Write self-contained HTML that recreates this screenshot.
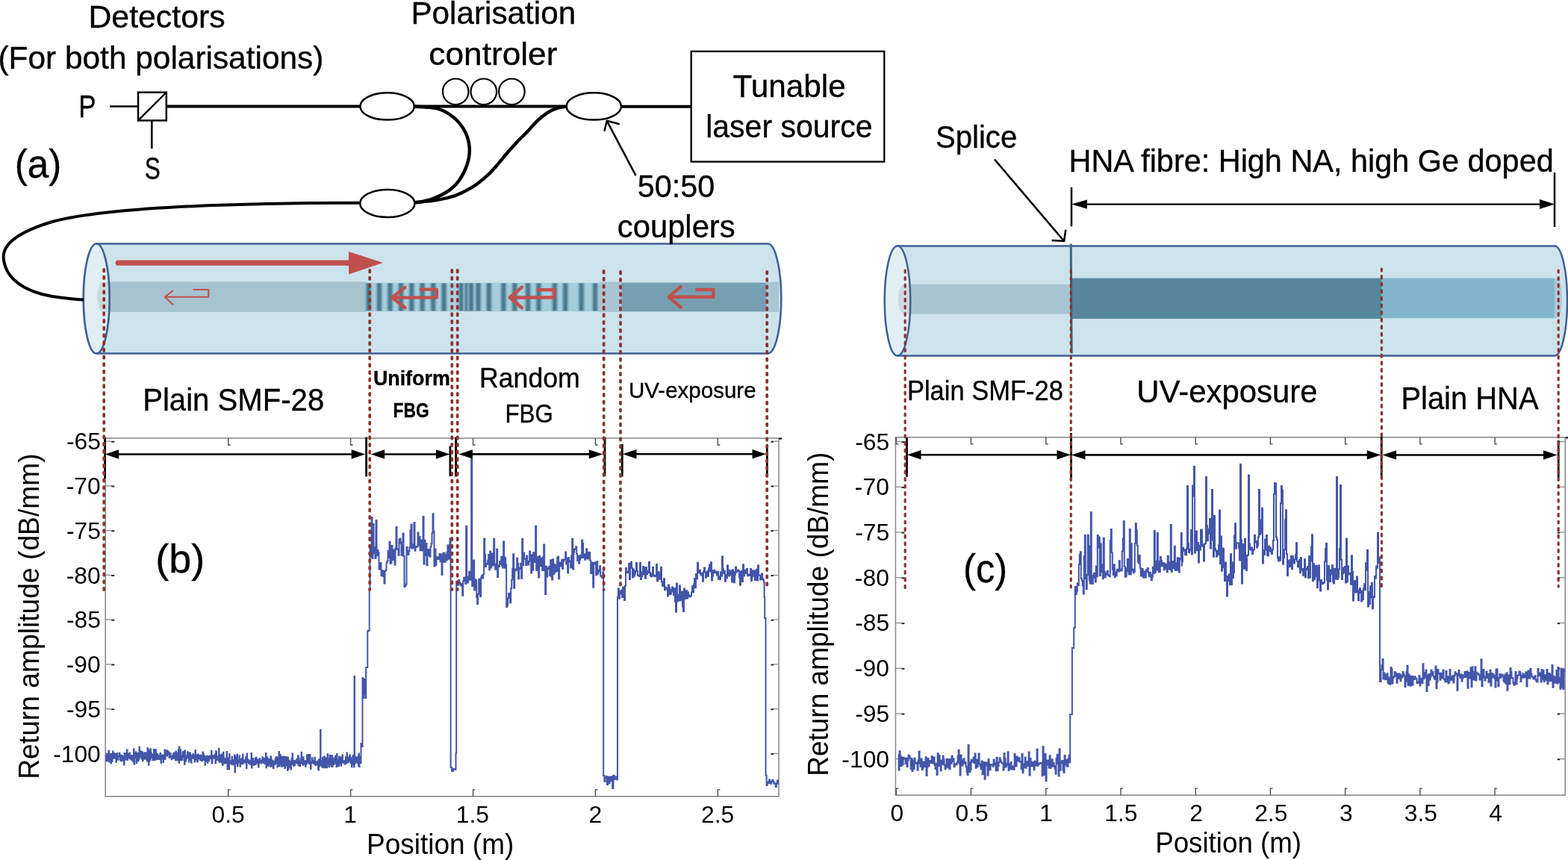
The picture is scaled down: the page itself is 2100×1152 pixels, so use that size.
<!DOCTYPE html>
<html><head><meta charset="utf-8"><title>OFDR fibre figure</title>
<style>html,body{margin:0;padding:0;background:#fff;} svg{display:block;}</style></head>
<body>
<svg width="2100" height="1152" viewBox="0 0 2100 1152" font-family='"Liberation Sans", sans-serif'>
<defs><linearGradient id="sg" x1="0" x2="1" y1="0" y2="0">
<stop offset="0" stop-color="#a6cddb" stop-opacity="0"/><stop offset="0.25" stop-color="#79a4b7"/><stop offset="0.4" stop-color="#4b7a90"/><stop offset="0.6" stop-color="#4b7a90"/><stop offset="0.75" stop-color="#79a4b7"/><stop offset="1" stop-color="#a6cddb" stop-opacity="0"/>
</linearGradient></defs>
<rect width="2100" height="1152" fill="#fff"/>
<rect x="141.2" y="587.0" width="901.8" height="479.79999999999995" fill="none" stroke="#8c8c8c" stroke-width="1.6"/>
<path d="M305.7,1066.8 V1057.8 h3 M305.7,587.0 V596.0 h3" fill="none" stroke="#444" stroke-width="1.3"/>
<path d="M469.6,1066.8 V1057.8 h3 M469.6,587.0 V596.0 h3" fill="none" stroke="#444" stroke-width="1.3"/>
<path d="M633.5,1066.8 V1057.8 h3 M633.5,587.0 V596.0 h3" fill="none" stroke="#444" stroke-width="1.3"/>
<path d="M797.4,1066.8 V1057.8 h3 M797.4,587.0 V596.0 h3" fill="none" stroke="#444" stroke-width="1.3"/>
<path d="M961.3,1066.8 V1057.8 h3 M961.3,587.0 V596.0 h3" fill="none" stroke="#444" stroke-width="1.3"/>
<path d="M141.2,591.1 H149.2" stroke="#8c8c8c" stroke-width="1.3"/>
<path d="M149.2,591.7 H153.2" stroke="#222" stroke-width="2"/>
<path d="M1043.0,591.1 H1036.0" stroke="#8c8c8c" stroke-width="1.3"/>
<path d="M1036.0,591.7 H1032.5" stroke="#222" stroke-width="2"/>
<path d="M141.2,650.9 H149.2" stroke="#8c8c8c" stroke-width="1.3"/>
<path d="M149.2,651.5 H153.2" stroke="#222" stroke-width="2"/>
<path d="M1043.0,650.9 H1036.0" stroke="#8c8c8c" stroke-width="1.3"/>
<path d="M1036.0,651.5 H1032.5" stroke="#222" stroke-width="2"/>
<path d="M141.2,710.6 H149.2" stroke="#8c8c8c" stroke-width="1.3"/>
<path d="M149.2,711.2 H153.2" stroke="#222" stroke-width="2"/>
<path d="M1043.0,710.6 H1036.0" stroke="#8c8c8c" stroke-width="1.3"/>
<path d="M1036.0,711.2 H1032.5" stroke="#222" stroke-width="2"/>
<path d="M141.2,770.4 H149.2" stroke="#8c8c8c" stroke-width="1.3"/>
<path d="M149.2,771.0 H153.2" stroke="#222" stroke-width="2"/>
<path d="M1043.0,770.4 H1036.0" stroke="#8c8c8c" stroke-width="1.3"/>
<path d="M1036.0,771.0 H1032.5" stroke="#222" stroke-width="2"/>
<path d="M141.2,830.1 H149.2" stroke="#8c8c8c" stroke-width="1.3"/>
<path d="M149.2,830.7 H153.2" stroke="#222" stroke-width="2"/>
<path d="M1043.0,830.1 H1036.0" stroke="#8c8c8c" stroke-width="1.3"/>
<path d="M1036.0,830.7 H1032.5" stroke="#222" stroke-width="2"/>
<path d="M141.2,889.9 H149.2" stroke="#8c8c8c" stroke-width="1.3"/>
<path d="M149.2,890.5 H153.2" stroke="#222" stroke-width="2"/>
<path d="M1043.0,889.9 H1036.0" stroke="#8c8c8c" stroke-width="1.3"/>
<path d="M1036.0,890.5 H1032.5" stroke="#222" stroke-width="2"/>
<path d="M141.2,949.6 H149.2" stroke="#8c8c8c" stroke-width="1.3"/>
<path d="M149.2,950.2 H153.2" stroke="#222" stroke-width="2"/>
<path d="M1043.0,949.6 H1036.0" stroke="#8c8c8c" stroke-width="1.3"/>
<path d="M1036.0,950.2 H1032.5" stroke="#222" stroke-width="2"/>
<path d="M141.2,1009.4 H149.2" stroke="#8c8c8c" stroke-width="1.3"/>
<path d="M149.2,1010.0 H153.2" stroke="#222" stroke-width="2"/>
<path d="M1043.0,1009.4 H1036.0" stroke="#8c8c8c" stroke-width="1.3"/>
<path d="M1036.0,1010.0 H1032.5" stroke="#222" stroke-width="2"/>
<path d="M1043.0,587.0 h4" stroke="#8c8c8c" stroke-width="1.6"/><path d="M1043.0,587.6 h4" stroke="#111" stroke-width="2"/>
<path d="M2096.2,585.8 H2100" stroke="#8c8c8c" stroke-width="1.6"/><path d="M2096.2,586.4 H2100" stroke="#111" stroke-width="2"/>
<rect x="1199.4" y="585.8" width="896.7999999999997" height="479.4000000000001" fill="none" stroke="#8c8c8c" stroke-width="1.6"/>
<path d="M1200.3,1065.2 V1056.2 h3 M1200.3,585.8 V594.8 h3" fill="none" stroke="#444" stroke-width="1.3"/>
<path d="M1300.5,1065.2 V1056.2 h3 M1300.5,585.8 V594.8 h3" fill="none" stroke="#444" stroke-width="1.3"/>
<path d="M1400.8,1065.2 V1056.2 h3 M1400.8,585.8 V594.8 h3" fill="none" stroke="#444" stroke-width="1.3"/>
<path d="M1501.0,1065.2 V1056.2 h3 M1501.0,585.8 V594.8 h3" fill="none" stroke="#444" stroke-width="1.3"/>
<path d="M1601.2,1065.2 V1056.2 h3 M1601.2,585.8 V594.8 h3" fill="none" stroke="#444" stroke-width="1.3"/>
<path d="M1701.4,1065.2 V1056.2 h3 M1701.4,585.8 V594.8 h3" fill="none" stroke="#444" stroke-width="1.3"/>
<path d="M1801.6,1065.2 V1056.2 h3 M1801.6,585.8 V594.8 h3" fill="none" stroke="#444" stroke-width="1.3"/>
<path d="M1901.9,1065.2 V1056.2 h3 M1901.9,585.8 V594.8 h3" fill="none" stroke="#444" stroke-width="1.3"/>
<path d="M2002.1,1065.2 V1056.2 h3 M2002.1,585.8 V594.8 h3" fill="none" stroke="#444" stroke-width="1.3"/>
<path d="M1199.4,591.6 H1207.4" stroke="#8c8c8c" stroke-width="1.3"/>
<path d="M1207.4,592.2 H1211.4" stroke="#222" stroke-width="2"/>
<path d="M2096.2,591.6 H2089.2" stroke="#8c8c8c" stroke-width="1.3"/>
<path d="M2089.2,592.2 H2085.7" stroke="#222" stroke-width="2"/>
<path d="M1199.4,652.3 H1207.4" stroke="#8c8c8c" stroke-width="1.3"/>
<path d="M1207.4,652.9 H1211.4" stroke="#222" stroke-width="2"/>
<path d="M2096.2,652.3 H2089.2" stroke="#8c8c8c" stroke-width="1.3"/>
<path d="M2089.2,652.9 H2085.7" stroke="#222" stroke-width="2"/>
<path d="M1199.4,713.0 H1207.4" stroke="#8c8c8c" stroke-width="1.3"/>
<path d="M1207.4,713.6 H1211.4" stroke="#222" stroke-width="2"/>
<path d="M2096.2,713.0 H2089.2" stroke="#8c8c8c" stroke-width="1.3"/>
<path d="M2089.2,713.6 H2085.7" stroke="#222" stroke-width="2"/>
<path d="M1199.4,773.7 H1207.4" stroke="#8c8c8c" stroke-width="1.3"/>
<path d="M1207.4,774.3 H1211.4" stroke="#222" stroke-width="2"/>
<path d="M2096.2,773.7 H2089.2" stroke="#8c8c8c" stroke-width="1.3"/>
<path d="M2089.2,774.3 H2085.7" stroke="#222" stroke-width="2"/>
<path d="M1199.4,834.5 H1207.4" stroke="#8c8c8c" stroke-width="1.3"/>
<path d="M1207.4,835.1 H1211.4" stroke="#222" stroke-width="2"/>
<path d="M2096.2,834.5 H2089.2" stroke="#8c8c8c" stroke-width="1.3"/>
<path d="M2089.2,835.1 H2085.7" stroke="#222" stroke-width="2"/>
<path d="M1199.4,895.2 H1207.4" stroke="#8c8c8c" stroke-width="1.3"/>
<path d="M1207.4,895.8 H1211.4" stroke="#222" stroke-width="2"/>
<path d="M2096.2,895.2 H2089.2" stroke="#8c8c8c" stroke-width="1.3"/>
<path d="M2089.2,895.8 H2085.7" stroke="#222" stroke-width="2"/>
<path d="M1199.4,955.9 H1207.4" stroke="#8c8c8c" stroke-width="1.3"/>
<path d="M1207.4,956.5 H1211.4" stroke="#222" stroke-width="2"/>
<path d="M2096.2,955.9 H2089.2" stroke="#8c8c8c" stroke-width="1.3"/>
<path d="M2089.2,956.5 H2085.7" stroke="#222" stroke-width="2"/>
<path d="M1199.4,1016.6 H1207.4" stroke="#8c8c8c" stroke-width="1.3"/>
<path d="M1207.4,1017.2 H1211.4" stroke="#222" stroke-width="2"/>
<path d="M2096.2,1016.6 H2089.2" stroke="#8c8c8c" stroke-width="1.3"/>
<path d="M2089.2,1017.2 H2085.7" stroke="#222" stroke-width="2"/>
<text x="88.98" y="602.30" font-size="31.80" textLength="45.96" lengthAdjust="spacingAndGlyphs">-65</text>
<text x="1145.18" y="602.60" font-size="31.80" textLength="45.96" lengthAdjust="spacingAndGlyphs">-65</text>
<text x="88.66" y="662.06" font-size="31.80" textLength="45.96" lengthAdjust="spacingAndGlyphs">-70</text>
<text x="1144.86" y="663.32" font-size="31.80" textLength="45.96" lengthAdjust="spacingAndGlyphs">-70</text>
<text x="88.98" y="721.81" font-size="31.80" textLength="45.96" lengthAdjust="spacingAndGlyphs">-75</text>
<text x="1145.18" y="724.03" font-size="31.80" textLength="45.96" lengthAdjust="spacingAndGlyphs">-75</text>
<text x="88.66" y="781.57" font-size="31.80" textLength="45.96" lengthAdjust="spacingAndGlyphs">-80</text>
<text x="1144.86" y="784.75" font-size="31.80" textLength="45.96" lengthAdjust="spacingAndGlyphs">-80</text>
<text x="88.98" y="841.32" font-size="31.80" textLength="45.96" lengthAdjust="spacingAndGlyphs">-85</text>
<text x="1145.18" y="845.46" font-size="31.80" textLength="45.96" lengthAdjust="spacingAndGlyphs">-85</text>
<text x="88.66" y="901.08" font-size="31.80" textLength="45.96" lengthAdjust="spacingAndGlyphs">-90</text>
<text x="1144.86" y="906.18" font-size="31.80" textLength="45.96" lengthAdjust="spacingAndGlyphs">-90</text>
<text x="88.98" y="960.83" font-size="31.80" textLength="45.96" lengthAdjust="spacingAndGlyphs">-95</text>
<text x="1145.18" y="966.89" font-size="31.80" textLength="45.96" lengthAdjust="spacingAndGlyphs">-95</text>
<text x="71.17" y="1020.59" font-size="31.80" textLength="63.65" lengthAdjust="spacingAndGlyphs">-100</text>
<text x="1127.37" y="1027.61" font-size="31.80" textLength="63.65" lengthAdjust="spacingAndGlyphs">-100</text>
<text x="283.60" y="1101.80" font-size="31.80" textLength="44.21" lengthAdjust="spacingAndGlyphs">0.5</text>
<text x="460.22" y="1101.80" font-size="31.80" textLength="17.69" lengthAdjust="spacingAndGlyphs">1</text>
<text x="610.76" y="1101.80" font-size="31.80" textLength="44.21" lengthAdjust="spacingAndGlyphs">1.5</text>
<text x="788.50" y="1101.80" font-size="31.80" textLength="17.69" lengthAdjust="spacingAndGlyphs">2</text>
<text x="939.04" y="1101.80" font-size="31.80" textLength="44.21" lengthAdjust="spacingAndGlyphs">2.5</text>
<text x="1192.40" y="1099.60" font-size="31.80" textLength="17.69" lengthAdjust="spacingAndGlyphs">0</text>
<text x="1279.42" y="1099.60" font-size="31.80" textLength="44.21" lengthAdjust="spacingAndGlyphs">0.5</text>
<text x="1392.37" y="1099.60" font-size="31.80" textLength="17.69" lengthAdjust="spacingAndGlyphs">1</text>
<text x="1479.24" y="1099.60" font-size="31.80" textLength="44.21" lengthAdjust="spacingAndGlyphs">1.5</text>
<text x="1593.30" y="1099.60" font-size="31.80" textLength="17.69" lengthAdjust="spacingAndGlyphs">2</text>
<text x="1680.16" y="1099.60" font-size="31.80" textLength="44.21" lengthAdjust="spacingAndGlyphs">2.5</text>
<text x="1793.90" y="1099.60" font-size="31.80" textLength="17.69" lengthAdjust="spacingAndGlyphs">3</text>
<text x="1880.77" y="1099.60" font-size="31.80" textLength="44.21" lengthAdjust="spacingAndGlyphs">3.5</text>
<text x="1994.36" y="1099.60" font-size="31.80" textLength="17.69" lengthAdjust="spacingAndGlyphs">4</text>
<text x="491.04" y="1144.30" font-size="38.50" textLength="197.24" lengthAdjust="spacingAndGlyphs">Position (m)</text>
<text x="1547.16" y="1142.40" font-size="39.00" textLength="195.91" lengthAdjust="spacingAndGlyphs">Position (m)</text>
<text transform="translate(52.30,1040.80) rotate(-90)" x="-2.98" y="0" font-size="38.40" textLength="436.44" lengthAdjust="spacingAndGlyphs">Return amplitude (dB/mm)</text>
<text transform="translate(1108.60,1036.90) rotate(-90)" x="-2.96" y="0" font-size="38.40" textLength="434.21" lengthAdjust="spacingAndGlyphs">Return amplitude (dB/mm)</text>
<path d="M141.5,1019.4h0.5v-6.5h0.5v-3.1h0.5v2.3h0.5v-0.7h0.5v7.7h0.5v-7.5h0.5v2.3h0.5v-8.3h0.5v14.8h0.5v-10.7h0.5v7.8h0.5v-7.4h0.5v3.1h0.5v9.2h0.5v-6.3h0.5v-5h0.5v8.8h0.5v-3.6h0.5v-9.8h0.5v6.6h0.5v2.4h0.5v-6.6h0.5v2.5h0.5v4.4h0.5v-3.6h0.5v-2.5h0.5v1.4h0.5v9.9h0.5v-7.5h0.5v-4.3h0.5v8.6h0.5v-3.6h0.5v3.2h0.5v-4.5h0.5v0.6h0.5v-4.8h0.5v1h0.5v3.5h0.5v4.9h0.5v-5.5h0.5v6.6h0.5v-7.5h0.5v0.8h0.5v5.5h0.5v-4.9h0.5v5.9h0.5v-3.2h0.5v2.1h0.5v6.6h0.5v-15.6h0.5v6.3h0.5v-0.1h0.5v2.3h0.5v-8.5h0.5v6.5h0.5v1.1h0.5v-11.9h0.5v13.1h0.5v-7.6h0.5v4h0.5v-1.6h0.5v2.7h0.5v-3.6h0.5v-3.2h0.5v8.1h0.5v-1.5h0.5v1.1h0.5v-4h0.5v6h0.5v-5.5h0.5v0.6h0.5v-1h0.5v8.1h0.5v-7.5h0.5v-9.6h0.5v20.5h0.5v-9.9h0.5v-1.5h0.5v-3.2h0.5v5.8h0.5v-7.7h0.5v15.1h0.5v-8.1h0.5v-4h0.5v4.6h0.5v-5.9h0.5v10.3h0.5v-2.4h0.5v-0h0.5v-16h0.5v12.5h0.5v-1.6h0.5v1.7h0.5v-6h0.5v-1h0.5v10h0.5v-5.4h0.5v-3.5h0.5v11.8h0.5v-5.1h0.5v-4.8h0.5v5.8h0.5v1.6h0.5v-8.5h0.5v4.5h0.5v2.7h0.5v-3.1h0.5v-3.9h0.5v8.7h0.5v-7.5h0.5v9.9h0.5v-17.7h0.5v6.7h0.5v-4.3h0.5v20.5h0.5v-4.7h0.5v-14.3h0.5v7.1h0.5v5.1h0.5v-14.8h0.5v11.9h0.5v-5.9h0.5v2.6h0.5v2.6h0.5v-3.7h0.5v7.6h0.5v-5.9h0.5v4h0.5v-12.5h0.5v12.8h0.5v1.6h0.5v-6.9h0.5v1.5h0.5v-8.7h0.5v8.9h0.5v4.1h0.5v-2.3h0.5v-5.2h0.5v4.4h0.5v1.7h0.5v1.1h0.5v-5.1h0.5v5h0.5v-0.1h0.5v-3.2h0.5v-4.5h0.5v1.2h0.5v11.7h0.5v-6.3h0.5v0.7h0.5v-4.2h0.5v3.7h0.5v-4.2h0.5v9.5h0.5v-7.8h0.5v0.1h0.5v-2.2h0.5v-6.6h0.5v12.4h0.5v-6.6h0.5v0.1h0.5v-0.6h0.5v-4.3h0.5v7h0.5v-7.3h0.5v4.5h0.5v-0.7h0.5v0.1h0.5v-2h0.5v7.5h0.5v-4.2h0.5v3.8h0.5v-5.2h0.5v4.1h0.5v-0.3h0.5v4.4h0.5v-3h0.5v1.4h0.5v-3.8h0.5v1.4h0.5v-3.1h0.5v5.5h0.5v-7.1h0.5v2.1h0.5v2.7h0.5v-4.6h0.5v9.5h0.5v-11.9h0.5v3.4h0.5v1.8h0.5v6.7h0.5v-9.8h0.5v0.7h0.5v7.8h0.5v-12.9h0.5v17.6h0.5v-21.1h0.5v17.8h0.5v-8.6h0.5v-5.5h0.5v12.7h0.5v1h0.5v-4.5h0.5v-1.2h0.5v5.7h0.5v-10.2h0.5v-0.8h0.5v2.6h0.5v4.8h0.5v-1.8h0.5v11.1h0.5v-18.5h0.5v12.6h0.5v2h0.5v-2.8h0.5v-5.3h0.5v3.9h0.5v0h0.5v-8.3h0.5v6.6h0.5v-4h0.5v-1.7h0.5v12.4h0.5v-8.8h0.5v3.4h0.5v-6.7h0.5v9.3h0.5v-4.7h0.5v8.3h0.5v-9h0.5v-0.7h0.5v4.1h0.5v-3.3h0.5v-2.4h0.5v5.7h0.5v-2h0.5v0.3h0.5v6.4h0.5v-8.3h0.5v-6.9h0.5v5.8h0.5v6.6h0.5v-4.8h0.5v-1h0.5v8.6h0.5v-1.4h0.5v-8.6h0.5v4.8h0.5v0.9h0.5v-2.6h0.5v-1.6h0.5v1.5h0.5v4.4h0.5v-1.3h0.5v-1.6h0.5v-3.3h0.5v7.6h0.5v-0.4h0.5v-5.5h0.5v-5.9h0.5v10.6h0.5v-7.8h0.5v6.6h0.5v-3.5h0.5v-0.7h0.5v12.1h0.5v-8.5h0.5v-2.7h0.5v6h0.5v-4.2h0.5v-2.6h0.5v5.7h0.5v3.2h0.5v-3h0.5v-5.6h0.5v6.2h0.5v-2.7h0.5v-0.7h0.5v-0h0.5v-3.4h0.5v-0h0.5v1.1h0.5v-7.8h0.5v16.6h0.5v-1.7h0.5v-8.8h0.5v3.3h0.5v0.5h0.5v-1.9h0.5v-0.5h0.5v-1.1h0.5v3.2h0.5v-5.1h0.5v12h0.5v-16.1h0.5v1.1h0.5v8.1h0.5v1.2h0.5v1.3h0.5v-4.3h0.5v1.8h0.5v3h0.5v-15.7h0.5v18h0.5v-6.1h0.5v5.6h0.5v-8.6h0.5v3.8h0.5v3.7h0.5v-3.8h0.5v6.1h0.5v-11.1h0.5v14.7h0.5v-2.4h0.5v-14.8h0.5v6.7h0.5v4.4h0.5v0.1h0.5v3.6h0.5v-6.3h0.5v1h0.5v4.8h0.5v-1.2h0.5v-14h0.5v9.5h0.5v14.2h0.5v-11h0.5v0.7h0.5v-4.9h0.5v14.8h0.5v-19.9h0.5v9.4h0.5v0.8h0.5v-1.2h0.5v3.2h0.5v-1.3h0.5v2.6h0.5v-10.1h0.5v6.1h0.5v-1.9h0.5v6.4h0.5v-5.4h0.5v5.3h0.5v-4.9h0.5v-7.8h0.5v23.1h0.5v-11h0.5v-1.1h0.5v0.1h0.5v-9h0.5v2h0.5v-4.8h0.5v15.4h0.5v-3.5h0.5v-4.5h0.5v2.5h0.5v-1.7h0.5v-6.6h0.5v4.9h0.5v9.4h0.5v-7.2h0.5v2.9h0.5v-5.4h0.5v1.5h0.5v-3h0.5v7.8h0.5v-12.7h0.5v12h0.5v-4.2h0.5v2.3h0.5v-1h0.5v-1.5h0.5v3.4h0.5v-2.6h0.5v-3.5h0.5v-1.7h0.5v15.1h0.5v-19.5h0.5v10.8h0.5v-1.4h0.5v-1.5h0.5v2.4h0.5v2.9h0.5v-0.8h0.5v-0.8h0.5v2.6h0.5v-4.9h0.5v3h0.5v2.3h0.5v-15.1h0.5v19.6h0.5v-6.5h0.5v-0h0.5v-6.1h0.5v8h0.5v0.9h0.5v-2.3h0.5v0.2h0.5v-3.2h0.5v-3.7h0.5v8.1h0.5v-6.6h0.5v-2.5h0.5v6.7h0.5v-2.5h0.5v3.1h0.5v-4.6h0.5v6.2h0.5v3.9h0.5v-5.4h0.5v-2h0.5v-3.9h0.5v2.5h0.5v1.9h0.5v-0.9h0.5v2.6h0.5v-1.6h0.5v-3.4h0.5v3.8h0.5v-6.9h0.5v7.3h0.5v-5.5h0.5v0.1h0.5v6.4h0.5v-0.9h0.5v-6h0.5v7.5h0.5v-2.9h0.5v-11.2h0.5v19.1h0.5v-14.5h0.5v4.2h0.5v-2.1h0.5v2.9h0.5v7h0.5v-7.9h0.5v-0.2h0.5v1.2h0.5v-2h0.5v7.5h0.5v2.5h0.5v-13.5h0.5v2.3h0.5v7h0.5v1.9h0.5v1.4h0.5v-7.2h0.5v8.9h0.5v1.5h0.5v-6.3h0.5v1h0.5v-3.6h0.5v3.9h0.5v-6.5h0.5v-1.8h0.5v6.5h0.5v-8.3h0.5v8.4h0.5v-6.6h0.5v11.6h0.5v-12.6h0.5v0.6h0.5v3.3h0.5v-11.8h0.5v19.3h0.5v-10.3h0.5v-5.2h0.5v13.1h0.5v-4.6h0.5v-6h0.5v13.5h0.5v-1.1h0.5v-11h0.5v7.9h0.5v-3.5h0.5v-5.5h0.5v12.5h0.5v-4.7h0.5v-5.3h0.5v13h0.5v-15h0.5v3h0.5v8.6h0.5v-11.5h0.5v11.4h0.5v-9.3h0.5v15.7h0.5v-17.2h0.5v15.5h0.5v-11.8h0.5v9.3h0.5v-0.7h0.5v-7.3h0.5v1.5h0.5v-0.1h0.5v9.3h0.5v-6.8h0.5v-7.7h0.5v2.1h0.5v-8.5h0.5v10.7h0.5v4.1h0.5v1.4h0.5v-3.9h0.5v-2.8h0.5v6.3h0.5v-3.7h0.5v-0h0.5v-2h0.5v0.8h0.5v-3.2h0.5v5.3h0.5v-4.5h0.5v4.1h0.5v-9.8h0.5v13h0.5v-10h0.5v5.2h0.5v4.5h0.5v1.2h0.5v-4.9h0.5v-2h0.5v-2.1h0.5v-9.5h0.5v15h0.5v-0.6h0.5v-7.8h0.5v10.5h0.5v-10.6h0.5v5.7h0.5v3.7h0.5v-4.2h0.5v3.6h0.5v-3.7h0.5v7.4h0.5v-7.3h0.5v3.5h0.5v0.3h0.5v-11.8h0.5v4.9h0.5v4.6h0.5v-9.9h0.5v7.8h0.5v3h0.5v1.1h0.5v-4.2h0.5v-7.8h0.5v11.6h0.5v7.6h0.5v-8.3h0.5v-1.4h0.5v1.5h0.5v-6.6h0.5v5.8h0.5v1.2h0.5v-3.1h0.5v3h0.5v0.5h0.5v-3.6h0.5v-4.4h0.5v9.6h0.5v0.8h0.5v-4.3h0.5v2.6h0.5v0.6h0.5v-1.3h0.5v-3.3h0.5v1.9h0.5v8.3h0.5v2h0.5v-14.4h0.5v9h0.5v-3h0.5v-0.7h0.5v-44.8h0.5v44.2h0.5v3.3h0.5v-6h0.5v7.9h0.5v-7.2h0.5v-5h0.5v13.4h0.5v-10h0.5v-4.1h0.5v13.5h0.5v-14.2h0.5v11.7h0.5v-9.2h0.5v12.3h0.5v-11.6h0.5v-1.3h0.5v12.8h0.5v-4h0.5v-13.9h0.5v10h0.5v-2.2h0.5v-1.9h0.5v11.1h0.5v-5.9h0.5v-9.7h0.5v11.2h0.5v0.8h0.5v-11.8h0.5v14.5h0.5v-8.6h0.5v-5.6h0.5v14.7h0.5v-7.9h0.5v-3.8h0.5v9.1h0.5v-3.3h0.5v-2.7h0.5v4.2h0.5v-5.3h0.5v-4.7h0.5v2.5h0.5v8.3h0.5v3.8h0.5v-17h0.5v14.2h0.5v-6.1h0.5v8.1h0.5v-6.4h0.5v6.2h0.5v-12.5h0.5v3.4h0.5v4.4h0.5v1.4h0.5v-8.3h0.5v10.9h0.5v-8.1h0.5v3.7h0.5v-3.4h0.5v-6.1h0.5v10.2h0.5v-2.2h0.5v1h0.5v1h0.5v-2.3h0.5v4.3h0.5v-4.8h0.5v1.2h0.5v-5.9h0.5v8.5h0.5v-1.1h0.5v-13h0.5v10.8h0.5v1.3h0.5v0.7h0.5v-1.1h0.5v-5h0.5v0.6h0.5v-2.8h0.5v-1.7h0.5v7.7h0.5v3.3h0.5v-3.7h0.5v-3.2h0.5v11.9h0.5v-11.7h0.5v9h0.5v-12.5h0.5v2.4h0.5v7.2h0.5v5.7h0.5v-121.3h0.5v117.1h0.5v-9.3h0.5v4.7h0.5v-4.1h0.5v0.5h0.5v6.4h0.5v-1.7h0.5v-2.9h0.5v5.5h0.5v-9.2h0.5v12.7h0.5v-16.1h0.5v17.4h0.5v-10.6h0.5v-2.8h0.5v6.9h0.5v1.5h0.5v-26h1v4h1v-92h1v27h0.8v-25h0.9v20h0.8v-12h0.6v17h0.6v-41h2.1v-49h2.4v-56h0.8v-58h1v14.7h1v-52.7h1v54.9h1v-45.9h1v39.2h1v-8.5h1v15.4h1v-51.1h1v47.2h1v-7.3h1v3.1h1v22.6h1v-7.1h1v-1.4h1v16.9h1v-7.1h1v8h1v-7h1v16.7h1v-16.6h1v-1.5h1v-9.6h1v-2.4h1v-13.8h1v9.5h1v-21.5h1v29.1h1v-1.3h1v-22.4h1v16.1h1v2.7h1v-13.3h1v20h1v-22.4h1v-28.2h1v29.9h1v-0.6h1v8.5h1v-20.8h1v-1.5h1v6.2h1v16.1h1v-17.4h1v-12h1v30.5h1v41.1h1v-1.3h1v-1.9h1v-50h1v4.9h1v5.2h1v-4.9h1v-5.1h1v-22.4h1v-8.1h1v32.4h1v-5.6h1v4.4h1v-33.6h1v37.7h1v-5.7h1v0.9h1v-0.9h1v-18.4h1v16.9h1v-11.5h1v18.3h1v-13.8h1v13.4h1v0.7h1v-45.6h1v63.6h1v-31.9h1v20.4h1v-16h1v29.2h1v-13.7h1v-7.6h1v8h1v1.7h1v-13.3h1v-4.2h1v-14.3h1v-25.6h1v23.4h1v46.8h1v-23.1h1v21.3h1v-9.3h1v-1.2h1v2.7h1v-0.2h1v-6.6h1v9.8h1v-9.3h1v27.4h1v-17.3h1v-12h1v0.1h1v12.3h1v-9.9h1v7.3h1v-10.7h1v-9.5h1v18.4h1v-0.9h1v-26.6h1v41.4h0.1v265.4h1.4v5h2v-3h2.5v1h1v-22h0.7v-230h1v3.2h1v1.6h1v-6.7h1v2.9h1v2.5h1v2.2h1v-2.7h1v15.7h1v-19.4h1v-4.8h1v2.5h1v6.1h1v-77.4h1v67.7h1v8.2h1v-3.5h1v-11.3h1v6.9h1v4.1h1v-162h1v170.1h1v-32.3h1v-2.1h1v39.7h1v-14h1v1.3h1v22.3h1v9.2h1v-13.2h1v-20h1v7.9h1v15.3h1v-25.4h1v-2.9h1v3.8h1v-5.1h1v-47.7h1v21h1v16.2h1v-4.1h1v1h1v-5.2h1v-7.6h1v20.2h1v-24.8h1v22.1h1v-19.1h1v13.8h1v2.4h1v-35.9h1v33.7h1v7h1v0.4h1v-27.1h1v37.4h1v-15.7h1v1.6h1v-6.9h1v3.6h1v-10h1v12h1v2.7h1v-34.8h1v35.1h1v-14h1v9.8h1v56.5h1v-2.2h1v-9.6h1v-6.5h1v3.1h1v9.8h1v-19.4h1v-11.7h1v-14.6h1v-19.7h1v45.5h1v-25.1h1v2h1v-1.2h1v-15.6h1v7.1h1v20.4h1v-13.2h1v-1.4h1v-5.9h1v20h1v-53.1h1v35.4h1v-16.7h1v8.3h1v-0.3h1v8.7h1v-12.5h1v7.8h1v4.2h1v-4.7h1v-13.3h1v6.4h1v22.5h1v-23.9h1v20.3h1v-23.7h1v12.7h1v-7h1v-41.2h1v59.2h1v-18h1v1.8h1v25.9h1v-28.9h1v9.4h1v4.1h1v-10.6h1v16.4h1v-18.2h1v-16.3h1v34.4h1v32h1v-37.2h1v13.9h1v-10.5h1v-1.1h1v-2.2h1v12.1h1v-20.6h1v22.2h1v4.1h1v-27.4h1v19.8h1v-13.1h1v10.5h1v-9.1h1v7.6h1v-17.7h1v-1.8h1v29.9h1v-21.9h1v3.4h1v1.7h1v-8.7h1v12.3h1v-9.9h1v-2.8h1v0.1h1v-9.9h1v16h1v-7.7h1v19.6h1v-20.6h1v5.5h1v-1h1v9.2h1v-16h1v-22.9h1v40.9h1v-22.7h1v-4.2h1v-0.4h1v-3.1h1v9.8h1v9.1h1v-6.3h1v9.8h1v-4.8h1v-6h1v3.2h1v-23.4h1v4.3h1v19h1v-4.6h1v7.5h1v-2.1h1v-12.5h1v4.9h1v8.5h1v-2.2h1v-6.4h1v10.8h1v17.1h1v-14.4h1v12.5h1v20.8h1v-33h1v-0.4h1v2h1v14.8h1v-18h1v16.5h1v-5.2h1v1.9h1v-7.2h1v13.3h1v0.5h1v2.2h1v-8h1v272.9h1.2v7.7h1.2v-5.1h1.2v-1.8h1.2v11.2h1.2v-10.5h1.2v8.6h1.2v-8.4h1.2v5.4h1.2v-5.9h1.2v15.7h1.2v-17.3h1.2v5.3h1.2v-2.2h1.2v-1.5h1.2v4h0.8v-244.3h1v-11.4h1v13.2h1v-9.5h1v3.1h1v-5h1v9.7h1v-13.5h1v9.9h1v7.5h1v-19.2h1v-23.9h1v5.2h1v1h1v-1.3h1v-10.8h1v21h1v-15.4h1v-7.8h1v8.2h1v12.4h1v-10.8h1v9.1h1v-3.5h1v-3.3h1v-10.9h1v11h1v5.9h1v-0.4h1v1.8h1v-18.4h1v22.1h1v-3.7h1v-5.9h1v-7.3h1v10.4h1v-9.3h1v14.6h1v-14.9h1v9.3h1v-4.4h1v2.5h1v-14.5h1v14.3h1v4.1h1v1.1h1v-3.8h1v-8.4h1v11.5h1v-0.9h1v1.5h1v-1.1h1v-15.2h1v22.7h1v-12.5h1v4.7h1v4.9h1v-8.7h1v-7.3h1v19.6h1v5.6h1v-5.1h1v-4.5h1v15h1v-3.7h1v1.4h1v1.1h1v9.4h1v-15h1v3.7h1v9.1h1v-0.7h1v-5.5h1v-3.7h1v6.2h1v4.3h1v-8.6h1v17.8h1v13.6h1v-38.3h1v24.2h1v-8.9h1v7.7h1v-19.8h1v9.8h1v9.9h1v-11.7h1v19.8h1v6.6h1v-30.6h1v13.6h1v-3.3h1v-7.5h1v10.4h1v-8.3h1v4h1v2.1h1v-1.4h1v0.5h1v-5h1v-8.4h1v8.2h1v-10.8h1v-7.4h1v12.2h1v-18.2h1v6.4h1v-21.7h1v13.6h1v-1.3h1v-2.3h1v5.2h1v1.8h1v-2.7h1v10.7h1v-13.4h1v-4.8h1v5.9h1v7.3h1v-1.9h1v-6.7h1v6.5h1v-9.9h1v-5.3h1v9.1h1v-12.4h1v24.4h1v-5.9h1v-7.5h1v-0.5h1v3.6h1v-0.5h1v-1.2h1v5h1v-4.7h1v9.9h1v-3.9h1v4.3h1v-9.8h1v5.3h1v-26.2h1v16.8h1v5.7h1v-2.9h1v13.6h1v-8.6h1v4.3h1v-16.9h1v6h1v7.9h1v-6.8h1v5.3h1v-5.6h1v15.3h1v-16.3h1v3h1v14h1v-10.6h1v-10.2h1v7h1v-1.6h1v-1.2h1v0.7h1v9.2h1v10.1h1v-17.6h1v-1.4h1v14.4h1v-22.8h1v15.3h1v-6.8h1v-1h1v4.1h1v-6h1v9.3h1v-0.6h1v-1.2h1v1.5h1v-9h1v16.2h1v-5.5h1v-8.4h1v7.5h1v-7.2h1v12.5h1v-10.6h1v-3.6h1v14.6h1v-20.2h1v13.2h1v0.1h1v5.9h1v-0.4h1v-7.6h1v6.9h1v1.8h1v2.7h0.6v20.2h0.6v28h1.3v210.4h1.1v13.5h1.1v-4.3h1.1v1.5h1.1v-4.5h1.1v2.7h1.1v2.5h1.1v-3h1.1v-2h1.1v2.1h1.1v2.8h1.1v-0.5h1.1v4.7h1.1v-4.5h1.1v-3.9h1.1v4.3h1.00" fill="none" stroke="#4356aa" stroke-width="2.0" stroke-linejoin="miter" stroke-miterlimit="2"/>
<path d="M1202.6,1011.1h1v20.3h1v-25.1h1v6.2h1v13.5h1v-11.2h1v9.4h1v-9.7h1v1.5h1v-0.3h1v7.3h1v-7.6h1v11.6h1v-8.2h1v-7.2h1v1.4h1v2.7h1v14.5h1v-14.1h1v17h1v-14.8h1v11.8h1v-14.3h1v6.9h1v-0.6h1v-0.7h1v10.3h1v-13.5h1v-11.7h1v16.2h1v4h1v-10.1h1v14.3h1v-1.9h1v-8.5h1v6.1h1v0.5h1v-12.9h1v24.9h1v-11.4h1v-11.8h1v10.1h1v-7h1v0h1v2.7h1v-8.7h1v9.6h1v-8h1v0h1v10.4h1v5h1v-7.3h1v15.4h1v-28.8h1v16.8h1v-14.3h1v8.7h1v12h1v-14.1h1v5.7h1v-11.6h1v4.7h1v7.5h1v5.5h1v-2.9h1v-10.5h1v7h1v4.6h1v-11.2h1v13h1v-13.4h1v6h1v-10h1v7.1h1v-3.7h1v11h1v-4h1v-0.1h1v1.3h1v-3.1h1v-8.6h1v-7.9h1v18.3h1v15.3h1v-27h1v6.5h1v7.7h1v-4.8h1v-4.6h1v6.6h1v-1.6h1v6.1h1v7.2h1v3.5h1v-40.1h1v22.9h1v13.3h1v-3.3h1v-13.1h1v3.1h1v-2h1v-4.4h1v7.7h1v-12.5h1v19.1h1v-11.2h1v9.4h1v-6.2h1v-11.2h1v14.1h1v2.6h1v4.1h1v-10.9h1v17.8h1v-10.7h1v-5.4h1v22.7h1v-20.4h1v-1.8h1v4.1h1v13.1h1v-21.9h1v10.8h1v3.6h1v-7.2h1v-0.1h1v0.6h1v2.1h1v-9.1h1v7.2h1v-3h1v10.6h1v-17.7h1v17.4h1v-6h1v-5.1h1v-5.7h1v2.5h1v2.6h1v2.1h1v0h1v8.9h1v-22.4h1v7.2h1v11.3h1v-2.2h1v-2.3h1v-15.8h1v24.8h1v-2.1h1v-6.7h1v-2.1h1v9.3h1v-2.8h1v-1.2h1v4.4h1v-20.9h1v15.3h1v1.1h1v-12.7h1v1.4h1v4.4h1v-4.2h1v5.3h1v-0.6h1v10.3h1v-20.4h1v25.5h1v-11.7h1v4.5h1v-13.6h1v14.2h1v-8.5h1v5.8h1v-3.4h1v-15.1h1v31h1v-22.4h1v8.4h1v1.8h1v-5.3h1v0.4h1v9.8h1v-11.4h1v0.9h1v4.9h1v-22.2h1v22.3h1v-1.7h1v-1.2h1v-1.1h1v0.4h1v0.4h1v16.7h1v-39.3h1v17.3h1v20.8h1v-28.1h1v36.4h1v-25.4h1v-2.4h1v6.1h1v3.9h1v-16.3h1v16.9h1v-5.1h1v-6.8h1v9.6h1v-5.1h1v4.4h1v3.6h1v6.8h1v-20.3h1v-5.4h1v12.3h1v16.5h1v-36.4h1v28.6h1v-12.3h1v2.7h1v-3.2h1v13.3h1v2.4h1v-22.8h1v12.5h1v-6.6h1v8.6h1v0.3h1v-10.2h1v-5.1h1v9.8h0.6v-64.2h2.7v-89h2.3v-27h1.6v-54.9h1v10h1v-3.7h1v-11.1h1v2.9h1v-28.3h1v-13h1v-3.7h1v35.6h1v2.9h1v6.6h1v11.1h1v-50.3h1v-28.1h1v58h1v14.2h1v-19.1h1v-53.4h1v14.6h1v46h1v4.5h1v-95.8h1v90.9h1v5.2h1v-11h1v-3.4h1v6.1h1v5.6h1v-20.8h1v13.7h1v-55.4h1v16.5h1v-13.9h1v51.6h1v-42.9h1v38.1h1v-10.2h1v19.1h1v-54.2h1v44.6h1v7.7h1v-3.8h1v-1.8h1v-3h1v6.1h1v-0.2h1v1.6h1v-48.5h1v-14.7h1v31.2h1v22.3h1v7.6h1v-13.8h1v16.9h1v-6.9h1v5h1v-8.5h1v0.9h1v1.7h1v-14.1h1v11.3h1v2h1v-0.6h1v-25.4h1v-17h1v-23.6h1v60.9h1v13.8h1v-1h1v-10.5h1v-12.3h1v16.4h1v3.9h1v-60.2h1v60.5h1v-41.2h1v35.9h1v-1.7h1v4.8h1v-1.9h1v-37.5h1v-26.9h1v8.8h1v20.9h1v21.6h1v2.1h1v-10.3h1v16.6h1v10.8h1v-6.4h1v-3.1h1v11.4h1v-7.9h1v8.1h1v-0.1h1v-10.2h1v2.2h1v-4.5h1v6.8h1v4.4h1v-5.5h1v3h1v7.5h1v-3.6h1v-13.8h1v8.4h1v-57.2h1v56.1h1v-15.3h1v11.8h1v-49.6h1v37.9h1v14.3h1v-0h1v-20.2h1v4.9h1v7.4h1v-1.9h1v-2.5h1v9.5h1v-1.9h1v-6.1h1v0.4h1v10.5h1v-21.5h1v17.1h1v-8.8h1v10h1v-60.1h1v62.9h1v-13.9h1v3.3h1v6h1v-29.6h1v32.3h1v-10h1v9.7h1v-16.5h1v0.2h1v19.1h1v-18.5h1v1.4h1v-35.4h1v43.5h0.2v-5.3h1v-18.4h1v4.2h1v-1.8h1v6.7h1v0.7h1v-8.2h1v-84.4h1v77.2h1v12h1v-2.8h1v-2h1v-25.3h1v32.4h1v-92h1v14.1h1v-39.6h1v115.5h1v-14.6h1v-14.4h1v25.7h1v-10.2h1v26.6h1v-22.8h1v5.8h1v-27.2h1v0.2h1v22.2h1v-2.8h1v22.5h1v-22.8h1v-0.4h1v-89.3h1v65.2h1v20.1h1v-15.6h1v6h1v-19.7h1v39.4h1v-11h1v-67.4h1v55h1v34.8h1v-54.7h1v43.9h1v2.4h1v8h1v-7.6h1v5.3h1v-12.6h1v-46.9h1v71.4h1v-36.4h1v46.1h1v-4.5h1v-25.6h1v19.8h1v23.7h1v-24.6h1v18.6h1v26.5h1v-26.9h1v6.4h1v-8.9h1v14h1v-41h1v40.8h1v-29.7h1v20.9h1v-7.5h1v-49.1h1v-16.4h1v33.6h1v-7.9h1v0.7h1v0h1v6.7h1v16.3h1v-128.6h1v101.2h1v58.4h1v-52.6h1v27.5h1v5.3h1v-40.1h1v26.2h1v16.1h1v-19.9h1v-0.7h1v-106.9h1v91.9h1v7.5h1v0.9h1v-3.2h1v8.5h1v-4.9h1v-1.1h1v-19.3h1v9.9h1v-1.9h1v8.7h1v-2.5h1v-11.8h1v-63.2h1v59.9h1v-2.2h1v-17.3h1v-15.9h1v74h1v-17.7h1v6.2h1v-20.6h1v14.4h1v-19.8h1v26.6h1v0.8h1v-12.7h1v6.3h1v-4.6h1v5.9h1v2.7h1v-5.7h1v-12.3h1v-62h1v-14.9h1v0.8h1v71.7h1v3.5h1v24.7h1v3.6h1v-5.2h1v4.5h1v-76.5h1v-23.2h1v5.2h1v99.5h1v-8.6h1v-10.8h1v-39.7h1v-13.3h1v58.7h1v29h1v-11.4h1v-9.2h1v8.5h1v-9h1v-4.8h1v17.1h1v-17.3h1v8.1h1v1.4h1v-5.2h1v-6.4h1v-15.6h1v24.9h1v7.5h1v-5.1h1v-4.8h1v17.6h1v-20.3h1v16.7h1v-1.6h1v8.7h1v-2.1h1v-19.4h1v24h1v-12.1h1v1.9h1v-4.1h1v15.3h1v-29.4h1v28.6h1v-22.1h1v-18.8h1v-16.4h1v61.9h1v-23.1h1v20.9h1v-3.9h1v-14.2h1v0.6h1v28.6h1v-16.1h1v-13.7h1v20.4h1v13.9h1v-14.6h1v3.3h1v1.8h1v-1.8h1v0.6h1v-28.6h1v-17.4h1v-6.9h1v49.4h1v12.1h1v-31.5h1v13.9h1v7.3h1v-15.7h1v5.8h1v-11.9h1v22.2h1v2h1v-19.6h1v2.3h1v11.3h1v-136.5h1v137h1v-2.8h1v-10.8h1v-27.6h1v-84.8h1v100.1h1v26h1v-7.8h1v-7.8h1v6.6h1v-8.2h1v21.6h1v-58.9h1v57.6h1v-20.9h1v11.2h1v-0.9h1v-1.1h1v15.3h1v-38.6h1v21.2h1v39.1h1v-22.4h1v-4h1v15.5h1v-0.1h1v-21h1v18.6h1v13h1v-13.4h1v-2.6h1v5.9h1v11.6h1v-14.1h1v11.6h1v-14.8h1v-6.1h1v8h1v-35.9h1v9.5h1v-27.1h1v75.8h1v-19.4h1v16h1v-23.9h1v15.3h1v-19.8h1v34.5h1v-16.1h1v0.8h1v-27.9h1v2.7h1v-16.2h1v2.3h1v-46.8h1v40.1h1v-7.5h1v166.4h1.5v-15.7h1v-6.2h1v-8.1h1v26.6h1v-8.1h1v2.7h1v6.1h1v-2h1v-6.1h1v12h1v1.9h1v-8.6h1v9.3h1v-22.7h1v2.2h1v19.1h1v-7.2h1v-1.9h1v-6.4h1v1.1h1v5h1v8.7h1v-11.9h1v6.2h1v-6.6h1v1.2h1v8.6h1v-7.5h1v2.8h1v-7.6h1v2.9h1v2.7h1v14.6h1v-7.3h1v-12.8h1v-8.3h1v26h1v-14.4h1v2.2h1v13.2h1v-6.8h1v-6.1h1v12h1v-11.3h1v3.6h1v-3.8h1v1.9h1v1.1h1v5.7h1v-0.2h1v-1.7h1v-8.1h1v13.6h1v-7.9h1v-1.9h1v6.2h1v-25.8h1v20.1h1v-1.8h1v-6.4h1v-3.7h1v28.5h1v-21.2h1v13.4h1v-15.1h1v7.7h1v-3.7h1v-9.6h1v6.5h1v-3.8h1v5.8h1v2.7h1v1.4h1v-17.5h1v29.6h1v-9.1h1v-16.1h1v5.6h1v-0.4h1v8.6h1v-8.9h1v4.9h1v1.5h1v-10.6h1v12h1v1.1h1v2.9h1v-14.7h1v14.2h1v-6.8h1v9.3h1v-2.1h1v-16.6h1v13.7h1v-3.8h1v4.4h1v-6.2h1v9.5h1v-8.7h1v-5.6h1v3.2h1v-1.1h1v22.5h1v-21.9h1v-5h1v7.4h1v2.6h1v-4.7h1v9.4h1v-4.2h1v-4.1h1v2.7h1v-7.1h1v4.8h1v2.2h1v-7.6h1v22.4h1v-20.6h1v1.2h1v6.3h1v-14.3h1v25.6h1v-26.4h1v6.6h1v10.5h1v-5.9h1v-11.4h1v18.1h1v-10.7h1v2h1v-0.1h1v1.8h1v6.2h1v-6.4h1v-20.9h1v36h1v-12h1v-10.3h1v10.7h1v3.8h1v-4.9h1v-7.1h1v8.6h1v-5.2h1v10.8h1v-1.8h1v-14.1h1v21h1v-16.8h1v5.4h1v-4.5h1v2.1h1v4h1v11.5h1v-23.8h1v-0.4h1v15.3h1v7.7h1v-11.4h1v-4.8h1v4.7h1v-1.7h1v-2.7h1v2.1h1v6.6h1v1.7h1v-10.2h1v12.1h1v-14.5h1v23.5h1v-20.1h1v10.5h1v1.1h1v-21.1h1v4.6h1v8.6h1v-0.2h1v7.4h1v2.2h1v-3.5h1v-14.1h1v16.4h1v-8h1v-3.9h1v-0.2h1v-4.8h1v0.6h1v12.8h1v-8.1h1v2.8h1v-5.5h1v1.5h1v3.7h1v0.1h1v-7.2h1v19.2h1v-16.7h1v-4.3h1v10h1v0.3h1v-13.1h1v6.9h1v3.7h1v0.7h1v2.6h1v-1.5h1v-2.9h1v5.4h1v1.8h1v1.2h1v-17.5h1v8.8h1v-3.3h1v2.5h1v9.5h1v-16.6h1v12.7h1v-11.6h1v15h1v-8.9h1v3.7h1v3.3h1v-14.1h1v19.2h1v-4.3h1v-10.1h1v1.9h1v8.4h1v-0.9h1v-20.3h1v29.7h1v-15h1v1.4h1v7.6h1v-6.7h1v-10.1h1v17.6h1v-21.5h1v13.4h1v6.6h1v8.7h1v-26.4h1v24.2h1v-24h1v26.6h1v-24.5h1v-1.1h0.50" fill="none" stroke="#4356aa" stroke-width="2.0" stroke-linejoin="miter" stroke-miterlimit="2"/>
<path d="M129.2,326.5 H1028.3 A18,73.5 0 0 1 1028.3,473.5 H129.2 A17.5,73.5 0 0 1 129.2,326.5 Z" fill="#cde3ec" stroke="none"/>
<path d="M492,377.6 H138 A8,20.15 0 0 0 138,417.9 H492 Z" fill="#a6c3cf"/>
<rect x="489" y="378.8" width="314" height="38.4" fill="#a6cddb"/>
<rect x="487.0" y="379.3" width="13" height="37.2" fill="url(#sg)"/>
<rect x="501.4" y="379.3" width="13" height="37.2" fill="url(#sg)"/>
<rect x="515.9" y="379.3" width="13" height="37.2" fill="url(#sg)"/>
<rect x="530.4" y="379.3" width="13" height="37.2" fill="url(#sg)"/>
<rect x="544.8" y="379.3" width="13" height="37.2" fill="url(#sg)"/>
<rect x="559.2" y="379.3" width="13" height="37.2" fill="url(#sg)"/>
<rect x="573.7" y="379.3" width="13" height="37.2" fill="url(#sg)"/>
<rect x="588.1" y="379.3" width="13" height="37.2" fill="url(#sg)"/>
<rect x="611.4" y="379.3" width="13" height="37.2" fill="url(#sg)"/>
<rect x="619.1" y="379.3" width="13" height="37.2" fill="url(#sg)"/>
<rect x="624.5" y="379.3" width="13" height="37.2" fill="url(#sg)"/>
<rect x="634.0" y="379.3" width="13" height="37.2" fill="url(#sg)"/>
<rect x="648.3" y="379.3" width="13" height="37.2" fill="url(#sg)"/>
<rect x="667.9" y="379.3" width="13" height="37.2" fill="url(#sg)"/>
<rect x="682.8" y="379.3" width="13" height="37.2" fill="url(#sg)"/>
<rect x="700.6" y="379.3" width="13" height="37.2" fill="url(#sg)"/>
<rect x="714.9" y="379.3" width="13" height="37.2" fill="url(#sg)"/>
<rect x="736.4" y="379.3" width="13" height="37.2" fill="url(#sg)"/>
<rect x="750.6" y="379.3" width="13" height="37.2" fill="url(#sg)"/>
<rect x="772.1" y="379.3" width="13" height="37.2" fill="url(#sg)"/>
<rect x="790.5" y="379.3" width="13" height="37.2" fill="url(#sg)"/>
<rect x="802.5" y="377.6" width="30" height="40.3" fill="#a8c5d1"/>
<rect x="832.3" y="378.6" width="194" height="38.8" fill="#76a0b2"/>
<rect x="1026" y="377.6" width="17" height="40.3" fill="#a8c5d1"/>
<ellipse cx="129.2" cy="400.0" rx="17.5" ry="73.5" fill="#ffffff" fill-opacity="0.4" stroke="#3f5f95" stroke-width="2.7"/>
<path d="M129.2,326.5 H1028.3 A18,73.5 0 0 1 1028.3,473.5 H129.2" fill="none" stroke="#3f5f95" stroke-width="2.6"/>
<path d="M1202.0,329.4 H2082.0 A17.0,73.55000000000001 0 0 1 2082.0,476.5 H1202.0 A17.3,73.55000000000001 0 0 1 1202.0,329.4 Z" fill="#cde3ec" stroke="none"/>
<path d="M1436,380.8 H1211 A8,19.8 0 0 0 1211,420.4 H1436 Z" fill="#a8c4cf"/>
<rect x="1436" y="372.6" width="414" height="54.4" fill="#57879b"/>
<rect x="1850" y="372.6" width="232" height="53.6" fill="#84b6cb"/>
<path d="M2082,372.6 h4 a6,26.8 0 0 1 0,53.6 h-4 Z" fill="#a9cbd8"/>
<ellipse cx="1202" cy="402.95" rx="17.3" ry="73.55000000000001" fill="#ffffff" fill-opacity="0.4" stroke="#3f5f95" stroke-width="2.5"/>
<path d="M1202,329.4 H2082 A17,73.55000000000001 0 0 1 2082,476.5 H1202" fill="none" stroke="#3f5f95" stroke-width="2.5"/>
<path d="M1434.2,326.4 L1435.2,473.2" stroke="#3e6477" stroke-width="3"/>
<path d="M158.3,352.2 H470" stroke="#c0504d" stroke-width="7.3" stroke-linecap="round"/>
<path d="M467,336.9 L512.9,351.9 L467,367.6 Z" fill="#c0504d"/>
<path d="M232,388.75 L220.8,397.8 L232,408.2 M220.8,397.8 H279.2 V388 H258.3" fill="none" stroke="#c0504d" stroke-width="2" stroke-linejoin="miter"/>
<path d="M542.4,385.0 L525.2,398.6 L542.4,412.20000000000005 M525.2,398.6 H584.8 V387.6 H563.8" fill="none" stroke="#c0504d" stroke-width="4.4" stroke-linecap="round" stroke-linejoin="round"/>
<path d="M698.8,384.8 L682.7,398.5 L698.8,412.2 M682.7,398.5 H742.3 V388.3 H720.8" fill="none" stroke="#c0504d" stroke-width="4.4" stroke-linecap="round" stroke-linejoin="round"/>
<path d="M911.7,383.90000000000003 L895.7,397.8 L911.7,411.7 M895.7,397.8 H955.4 V388.0 H933.2" fill="none" stroke="#c0504d" stroke-width="4.4" stroke-linecap="round" stroke-linejoin="round"/>
<g fill="none" stroke="#000">
<path d="M147.1,142.5 H185" stroke-width="2.6"/>
<path d="M203.3,161.4 V199" stroke-width="2.6"/>
<rect x="185" y="123.7" width="37.8" height="37.7" stroke-width="2.5"/>
<path d="M185,161.4 L222.8,123.7" stroke-width="2.3"/>
<path d="M222.8,142.5 H482 M555,142.5 H759 M832,142.7 H925.7" stroke-width="3.9"/>
<path d="M552.0,142.6 C555.0,142.8 563.8,142.8 570.0,143.5 C576.2,144.2 582.6,144.1 589.0,146.5 C595.4,148.9 603.0,153.2 608.6,158.2 C614.2,163.2 619.5,169.8 622.9,176.5 C626.3,183.2 628.4,191.2 628.8,198.6 C629.2,206.0 627.8,213.5 625.5,220.7 C623.2,227.9 619.0,235.9 615.1,241.6 C611.2,247.2 607.5,250.7 602.1,254.6 C596.7,258.5 588.6,262.5 582.6,265.0 C576.6,267.5 571.1,268.7 566.0,269.8 C560.9,270.9 554.3,271.2 552.0,271.5" stroke-width="4.4"/>
<path d="M552.0,271.6 C557.1,271.1 573.2,269.8 582.6,268.3 C592.0,266.8 599.9,265.5 608.6,262.4 C617.3,259.2 627.0,254.2 634.6,249.4 C642.2,244.6 648.8,238.7 654.2,233.7 C659.6,228.7 662.9,224.4 667.2,219.4 C671.5,214.4 675.9,208.8 680.2,203.8 C684.5,198.8 688.9,194.1 693.2,189.5 C697.5,184.9 701.9,181.1 706.2,176.5 C710.6,171.9 714.9,166.2 719.3,162.1 C723.6,158.0 728.0,154.5 732.3,151.7 C736.6,148.9 740.7,146.7 745.3,145.2 C749.9,143.7 757.5,143.0 760.0,142.6" stroke-width="4.4"/>
<path d="M481.4,271.8 C330,272 150,276 70,297 C20,312 2,330 5,348 C8,372 30,390 70,397 C90,400 100,401 111.9,401.4" stroke-width="4.0"/>
</g>
<g fill="#fff" stroke="#000" stroke-width="2.5">
<ellipse cx="518.6" cy="142.4" rx="36.2" ry="18.2"/>
<ellipse cx="518.8" cy="272.5" rx="36.6" ry="18.4"/>
<ellipse cx="795.4" cy="142.4" rx="36.6" ry="18.2"/>
</g>
<g fill="none" stroke="#000" stroke-width="2.2">
<circle cx="610.2" cy="122.8" r="17.3"/><circle cx="647.8" cy="122.8" r="17.3"/><circle cx="685.4" cy="122.8" r="17.3"/>
<rect x="925.7" y="68.8" width="258.6" height="147.8" stroke-width="2.3"/>
<path d="M851.5,235.1 L812.8,161.8 M809.4,175.7 L812.8,161.8 L829.8,166.2" stroke-width="2.5"/>
<path d="M1332,213.5 L1425.1,323 M1408.7,322 L1425.1,323 L1427.3,307.7" stroke-width="2.6"/>
<path d="M1435,250.8 V303.3 M2082,231 V304" stroke-width="2.5"/>
<path d="M1452,273.6 H2065" stroke-width="2.2"/>
</g>
<path d="M1435,273.6 L1456,267.4 L1456,279.8 Z M2082,273.6 L2062,267.1 L2062,280.1 Z" fill="#000"/>
<path d="M157.2,608.5 H472.7" stroke="#000" stroke-width="2.6"/><path d="M140.7,608.5 L159.2,602.3 L159.2,614.7 Z M489.2,608.5 L470.7,602.3 L470.7,614.7 Z" fill="#000"/>
<path d="M513.1,608.5 H585.9" stroke="#000" stroke-width="2.6"/><path d="M496.6,608.5 L515.1,602.3 L515.1,614.7 Z M602.4,608.5 L583.9,602.3 L583.9,614.7 Z" fill="#000"/>
<path d="M630.9,608.4 H790.8" stroke="#000" stroke-width="2.6"/><path d="M614.4,608.4 L632.9,602.1999999999999 L632.9,614.6 Z M807.3,608.4 L788.8,602.1999999999999 L788.8,614.6 Z" fill="#000"/>
<path d="M850.5,608.3 H1009.5" stroke="#000" stroke-width="2.6"/><path d="M834.0,608.3 L852.5,602.0999999999999 L852.5,614.5 Z M1026.0,608.3 L1007.5,602.0999999999999 L1007.5,614.5 Z" fill="#000"/>
<path d="M1231.5,609.2 H1417.5" stroke="#000" stroke-width="2.6"/><path d="M1215.0,609.2 L1233.5,603.0 L1233.5,615.4000000000001 Z M1434.0,609.2 L1415.5,603.0 L1415.5,615.4000000000001 Z" fill="#000"/>
<path d="M1451.5,609.4 H1832.8" stroke="#000" stroke-width="2.6"/><path d="M1435.0,609.4 L1453.5,603.1999999999999 L1453.5,615.6 Z M1849.3,609.4 L1830.8,603.1999999999999 L1830.8,615.6 Z" fill="#000"/>
<path d="M1868.1,609.5 H2069.0" stroke="#000" stroke-width="2.6"/><path d="M1851.6,609.5 L1870.1,603.3 L1870.1,615.7 Z M2085.5,609.5 L2067.0,603.3 L2067.0,615.7 Z" fill="#000"/>
<path d="M140.6,585.8 V641" stroke="#000" stroke-width="2.8"/>
<path d="M490.6,585.5 V638.4" stroke="#000" stroke-width="2.8"/>
<path d="M602.9,597.5 V637.9" stroke="#000" stroke-width="2.8"/>
<path d="M610.6,585.5 V638.4" stroke="#000" stroke-width="2.8"/>
<path d="M810.0,585.7 V637.7" stroke="#000" stroke-width="2.8"/>
<path d="M833.3,595 V638.3" stroke="#000" stroke-width="2.8"/>
<path d="M1027.3,595 V637.7" stroke="#000" stroke-width="2.8"/>
<path d="M1214.5,586.2 V638.7" stroke="#000" stroke-width="2.8"/>
<path d="M1434.5,580 V640.3" stroke="#000" stroke-width="2.8"/>
<path d="M1850.2,585 V640" stroke="#000" stroke-width="2.8"/>
<path d="M2087.2,590 V640" stroke="#000" stroke-width="2.8"/>
<g stroke="#000" stroke-width="0.35"><text x="118.48" y="36.70" font-size="43.00" textLength="183.11" lengthAdjust="spacingAndGlyphs">Detectors</text>
<text x="-2.54" y="91.50" font-size="42.50" textLength="435.89" lengthAdjust="spacingAndGlyphs">(For both polarisations)</text>
<text x="550.42" y="31.80" font-size="43.00" textLength="220.83" lengthAdjust="spacingAndGlyphs">Polarisation</text>
<text x="574.33" y="86.70" font-size="43.00" textLength="172.08" lengthAdjust="spacingAndGlyphs">controler</text>
<text x="105.31" y="156.70" font-size="42.00" textLength="23.28" lengthAdjust="spacingAndGlyphs">P</text>
<text x="193.82" y="240.20" font-size="42.50" textLength="21.06" lengthAdjust="spacingAndGlyphs">S</text>
<text x="19.72" y="238.40" font-size="54.30" textLength="62.66" lengthAdjust="spacingAndGlyphs">(a)</text>
<text x="208.37" y="767.00" font-size="54.30" textLength="65.89" lengthAdjust="spacingAndGlyphs">(b)</text>
<text x="1290.05" y="780.00" font-size="54.30" textLength="59.20" lengthAdjust="spacingAndGlyphs">(c)</text>
<text x="981.45" y="129.70" font-size="43.00" textLength="151.32" lengthAdjust="spacingAndGlyphs">Tunable</text>
<text x="945.13" y="184.40" font-size="43.00" textLength="223.50" lengthAdjust="spacingAndGlyphs">laser source</text>
<text x="853.75" y="263.90" font-size="42.90" textLength="103.51" lengthAdjust="spacingAndGlyphs">50:50</text>
<text x="826.83" y="317.60" font-size="42.90" textLength="157.83" lengthAdjust="spacingAndGlyphs">couplers</text>
<text x="1252.89" y="197.80" font-size="42.30" textLength="109.36" lengthAdjust="spacingAndGlyphs">Splice</text>
<text x="1431.49" y="229.70" font-size="42.20" textLength="649.22" lengthAdjust="spacingAndGlyphs">HNA fibre: High NA, high Ge doped</text>
<text x="191.19" y="549.60" font-size="43.20" textLength="243.02" lengthAdjust="spacingAndGlyphs">Plain SMF-28</text>
<text x="499.89" y="515.70" font-size="27.50" font-weight="bold" textLength="102.91" lengthAdjust="spacingAndGlyphs">Uniform</text>
<text x="526.61" y="559.40" font-size="27.50" font-weight="bold" textLength="47.98" lengthAdjust="spacingAndGlyphs">FBG</text>
<text x="642.05" y="518.60" font-size="36.20" textLength="134.64" lengthAdjust="spacingAndGlyphs">Random</text>
<text x="676.39" y="565.50" font-size="35.70" textLength="64.38" lengthAdjust="spacingAndGlyphs">FBG</text>
<text x="841.94" y="532.60" font-size="29.70" textLength="170.67" lengthAdjust="spacingAndGlyphs">UV-exposure</text>
<text x="1214.94" y="535.70" font-size="36.20" textLength="209.00" lengthAdjust="spacingAndGlyphs">Plain SMF-28</text>
<text x="1522.35" y="539.40" font-size="42.60" textLength="242.26" lengthAdjust="spacingAndGlyphs">UV-exposure</text>
<text x="1876.41" y="547.60" font-size="42.90" textLength="184.11" lengthAdjust="spacingAndGlyphs">Plain HNA</text></g>
<path d="M139.2,361 V790" stroke="#8a3330" stroke-width="3.8" stroke-dasharray="2.4 7.3" stroke-linecap="round"/>
<path d="M495.2,362 V790" stroke="#8a3330" stroke-width="3.8" stroke-dasharray="2.4 7.3" stroke-linecap="round"/>
<path d="M605.3,362 V790" stroke="#8a3330" stroke-width="3.8" stroke-dasharray="2.4 7.3" stroke-linecap="round"/>
<path d="M612.7,362 V790" stroke="#8a3330" stroke-width="3.8" stroke-dasharray="2.4 7.3" stroke-linecap="round"/>
<path d="M808.7,363 V790" stroke="#8a3330" stroke-width="3.8" stroke-dasharray="2.4 7.3" stroke-linecap="round"/>
<path d="M831.0,364 V790" stroke="#8a3330" stroke-width="3.8" stroke-dasharray="2.4 7.3" stroke-linecap="round"/>
<path d="M1027.2,364 V790" stroke="#8a3330" stroke-width="3.8" stroke-dasharray="2.4 7.3" stroke-linecap="round"/>
<path d="M1212.2,362 V790" stroke="#8a3330" stroke-width="3.2" stroke-dasharray="3.0 6.6" stroke-linecap="round"/>
<path d="M1434.3,362 V787" stroke="#8a3330" stroke-width="3.2" stroke-dasharray="3.0 6.6" stroke-linecap="round"/>
<path d="M1850.4,360 V786" stroke="#8a3330" stroke-width="3.2" stroke-dasharray="3.0 6.6" stroke-linecap="round"/>
<path d="M2087.2,362 V786" stroke="#8a3330" stroke-width="3.2" stroke-dasharray="3.0 6.6" stroke-linecap="round"/>
</svg>
</body></html>
